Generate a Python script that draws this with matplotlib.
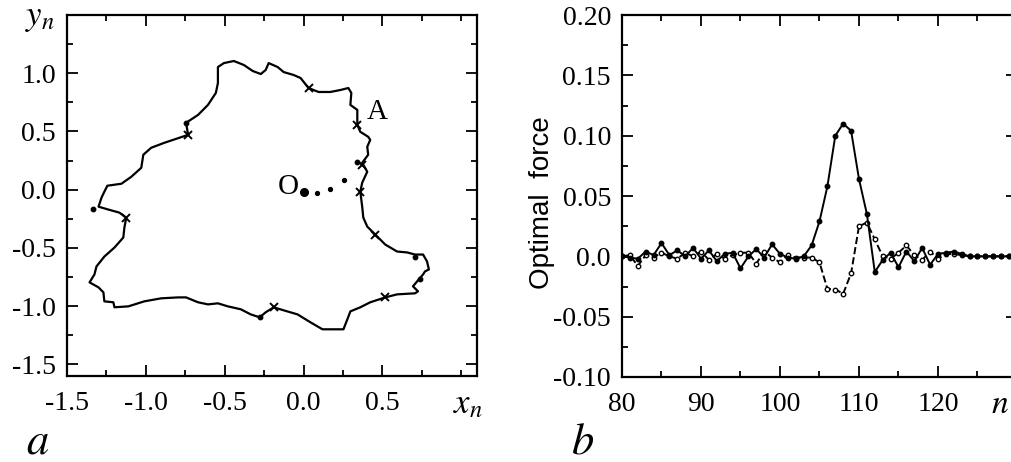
import matplotlib
matplotlib.use("Agg")
import matplotlib.pyplot as plt
from matplotlib.ticker import MultipleLocator

plt.rcParams['font.family'] = ['Liberation Serif', 'DejaVu Serif']
plt.rcParams['mathtext.fontset'] = 'stix'
plt.rcParams['axes.unicode_minus'] = False

# panel a: closed trajectory (x_n, y_n)
loop_x = [0.360, 0.372, 0.379, 0.404, 0.455, 0.518, 0.593, 0.657, 0.707, 0.758,
          0.783, 0.795, 0.770, 0.758, 0.720, 0.694, 0.726, 0.707, 0.593, 0.518,
          0.423, 0.360, 0.297, 0.278, 0.253, 0.120, 0.044, -0.038, -0.126, -0.189,
          -0.240, -0.278, -0.335, -0.398, -0.480, -0.543, -0.606, -0.669, -0.745, -0.795,
          -0.903, -1.010, -1.111, -1.199, -1.206, -1.263, -1.269, -1.300, -1.357, -1.326,
          -1.313, -1.263, -1.199, -1.143, -1.136, -1.124, -1.168, -1.237, -1.300, -1.281,
          -1.263, -1.244, -1.155, -1.092, -1.029, -1.016, -0.966, -0.884, -0.789, -0.732,
          -0.745, -0.669, -0.606, -0.556, -0.543, -0.543, -0.505, -0.442, -0.379, -0.322,
          -0.271, -0.240, -0.221, -0.164, -0.126, -0.063, -0.019, 0.032, 0.095, 0.170,
          0.234, 0.284, 0.303, 0.297, 0.341, 0.341, 0.360, 0.410, 0.423, 0.404,
          0.410, 0.372, 0.404, 0.372, 0.360]
loop_y = [-0.017, -0.146, -0.240, -0.317, -0.385, -0.471, -0.531, -0.539, -0.557, -0.557,
          -0.616, -0.685, -0.702, -0.728, -0.788, -0.830, -0.873, -0.890, -0.899, -0.925,
          -0.967, -1.010, -1.045, -1.113, -1.199, -1.199, -1.139, -1.071, -1.036, -1.010,
          -1.053, -1.096, -1.071, -1.027, -1.002, -0.976, -0.985, -0.967, -0.925, -0.925,
          -0.933, -0.959, -1.002, -1.010, -0.967, -0.959, -0.882, -0.839, -0.796, -0.728,
          -0.659, -0.574, -0.497, -0.411, -0.325, -0.240, -0.197, -0.171, -0.146, -0.068,
          -0.017, 0.034, 0.051, 0.111, 0.188, 0.300, 0.360, 0.402, 0.445, 0.471,
          0.574, 0.642, 0.728, 0.831, 0.916, 1.053, 1.087, 1.105, 1.071, 1.019,
          0.993, 1.028, 1.087, 1.053, 1.010, 0.985, 0.959, 0.873, 0.839, 0.839,
          0.856, 0.873, 0.831, 0.728, 0.685, 0.557, 0.497, 0.454, 0.428, 0.368,
          0.300, 0.231, 0.154, 0.060, -0.017]

cross_x = [-1.124, -0.732, 0.032, 0.341, 0.372, 0.360, 0.455, 0.518, -0.189]
cross_y = [-0.240, 0.471, 0.873, 0.557, 0.214, -0.017, -0.385, -0.925, -1.010]
dot_x = [-1.332, -0.745, 0.707, 0.739, 0.341, -0.278]
dot_y = [-0.163, 0.574, -0.574, -0.770, 0.240, -1.096]
start_x = [0.0, 0.088, 0.170, 0.259]
start_y = [-0.017, -0.026, 0.009, 0.086]

# panel b: optimal force vs n
n = list(range(80, 131))
force_solid = [0.0, -0.001, -0.002, 0.004, 0.001, 0.011, 0.001, 0.005, 0.0, 0.007,
               -0.002, 0.005, -0.004, 0.002, 0.003, -0.010, 0.0, 0.006, -0.001, 0.010,
               0.002, -0.001, -0.002, 0.0, 0.009, 0.029, 0.058, 0.100, 0.110, 0.104,
               0.064, 0.035, -0.013, -0.003, 0.003, -0.009, 0.004, -0.004, 0.007, -0.007,
               0.002, 0.003, 0.004, 0.002, 0.0, 0.0, 0.0, 0.0, 0.0, 0.0, 0.0]
force_dashed = [0.0, 0.001, -0.008, 0.001, -0.001, 0.003, 0.0, -0.002, 0.003, 0.0,
                0.004, -0.003, 0.002, -0.002, 0.001, 0.003, 0.003, -0.006, 0.004, -0.001,
                -0.005, 0.001, -0.001, -0.001, -0.001, -0.005, -0.027, -0.0275, -0.031, -0.014,
                0.025, 0.028, 0.014, 0.0, -0.002, 0.003, 0.009, 0.001, -0.003, 0.004,
                -0.002, 0.002, 0.002, 0.001, 0.0, 0.0, 0.0, 0.0, 0.0, 0.0, 0.0]

a_xticks = [-1.5, -1.0, -0.5, 0.0, 0.5]
a_yticks = [-1.5, -1.0, -0.5, 0.0, 0.5, 1.0]
b_xticks = [80, 90, 100, 110, 120]
b_yticks = [-0.10, -0.05, 0.0, 0.05, 0.10, 0.15, 0.20]
b_ylabels = ['-0.10', '-0.05', '0.0', '0.05', '0.10', '0.15', '0.20']

W, H = 1012, 462
fig = plt.figure(figsize=(W / 100, H / 100), dpi=100)

ax1 = fig.add_axes([67 / W, 86 / H, 410 / W, 361 / H])
ax1.plot(loop_x, loop_y, color='k', lw=1.6)
ax1.plot(cross_x, cross_y, 'x', color='k', ms=6, mew=1.4)
ax1.plot(dot_x, dot_y, 'o', color='k', ms=3.2)
ax1.plot(start_x, start_y, 'o', color='k', ms=2.8)
ax1.plot([0.0], [-0.017], 'o', color='k', ms=5.5)
ax1.text(-0.095, 0.026, 'O', fontsize=21, ha='center', va='center')
ax1.text(0.467, 0.668, 'A', fontsize=21, ha='center', va='center')
ax1.set_xlim(-1.5, 1.1)
ax1.set_ylim(-1.6, 1.5)
ax1.set_xticks(a_xticks)
ax1.set_xticklabels([f'{v:.1f}' for v in a_xticks])
ax1.set_yticks(a_yticks)
ax1.set_yticklabels([f'{v:.1f}' for v in a_yticks])
ax1.xaxis.set_minor_locator(MultipleLocator(0.25))
ax1.yaxis.set_minor_locator(MultipleLocator(0.25))

ax2 = fig.add_axes([622 / W, 85 / H, 395 / W, 362 / H])
ax2.plot(n, force_dashed, '--o', color='k', lw=1.4, ms=3.2, mfc='white', mew=1.0)
ax2.plot(n, force_solid, '-o', color='k', lw=1.4, ms=3.2)
ax2.set_xlim(80, 130)
ax2.set_ylim(-0.10, 0.20)
ax2.set_xticks(b_xticks)
ax2.set_xticklabels([str(v) for v in b_xticks])
ax2.set_yticks(b_yticks)
ax2.set_yticklabels(b_ylabels)
ax2.xaxis.set_minor_locator(MultipleLocator(5))
ax2.yaxis.set_minor_locator(MultipleLocator(0.025))

for ax in (ax1, ax2):
    for s in ax.spines.values():
        s.set_linewidth(1.6)
    ax.tick_params(which='both', direction='in', top=True, right=True, width=1.3)
    ax.tick_params(which='major', length=8, labelsize=20)
    ax.tick_params(which='minor', length=4)
    ax.tick_params(axis='x', pad=11)
    ax.tick_params(axis='y', pad=8)

fig.text(542 / W, 1 - 203 / H, 'Optimal  force', family='Liberation Sans', fontsize=20,
         rotation=90, ha='center', va='center')
fig.text(40 / W, 1 - 17 / H, '$y_n$', fontsize=25, ha='center', va='center')
fig.text(468 / W, 1 - 405 / H, '$x_n$', fontsize=25, ha='center', va='center')
fig.text(1000 / W, 1 - 405 / H, '$n$', fontsize=24, ha='center', va='center')
fig.text(38 / W, 1 - 443 / H, '$a$', fontsize=32, ha='center', va='center')
fig.text(583 / W, 1 - 443 / H, '$b$', fontsize=32, ha='center', va='center')

fig.savefig('out.png', dpi=100)
